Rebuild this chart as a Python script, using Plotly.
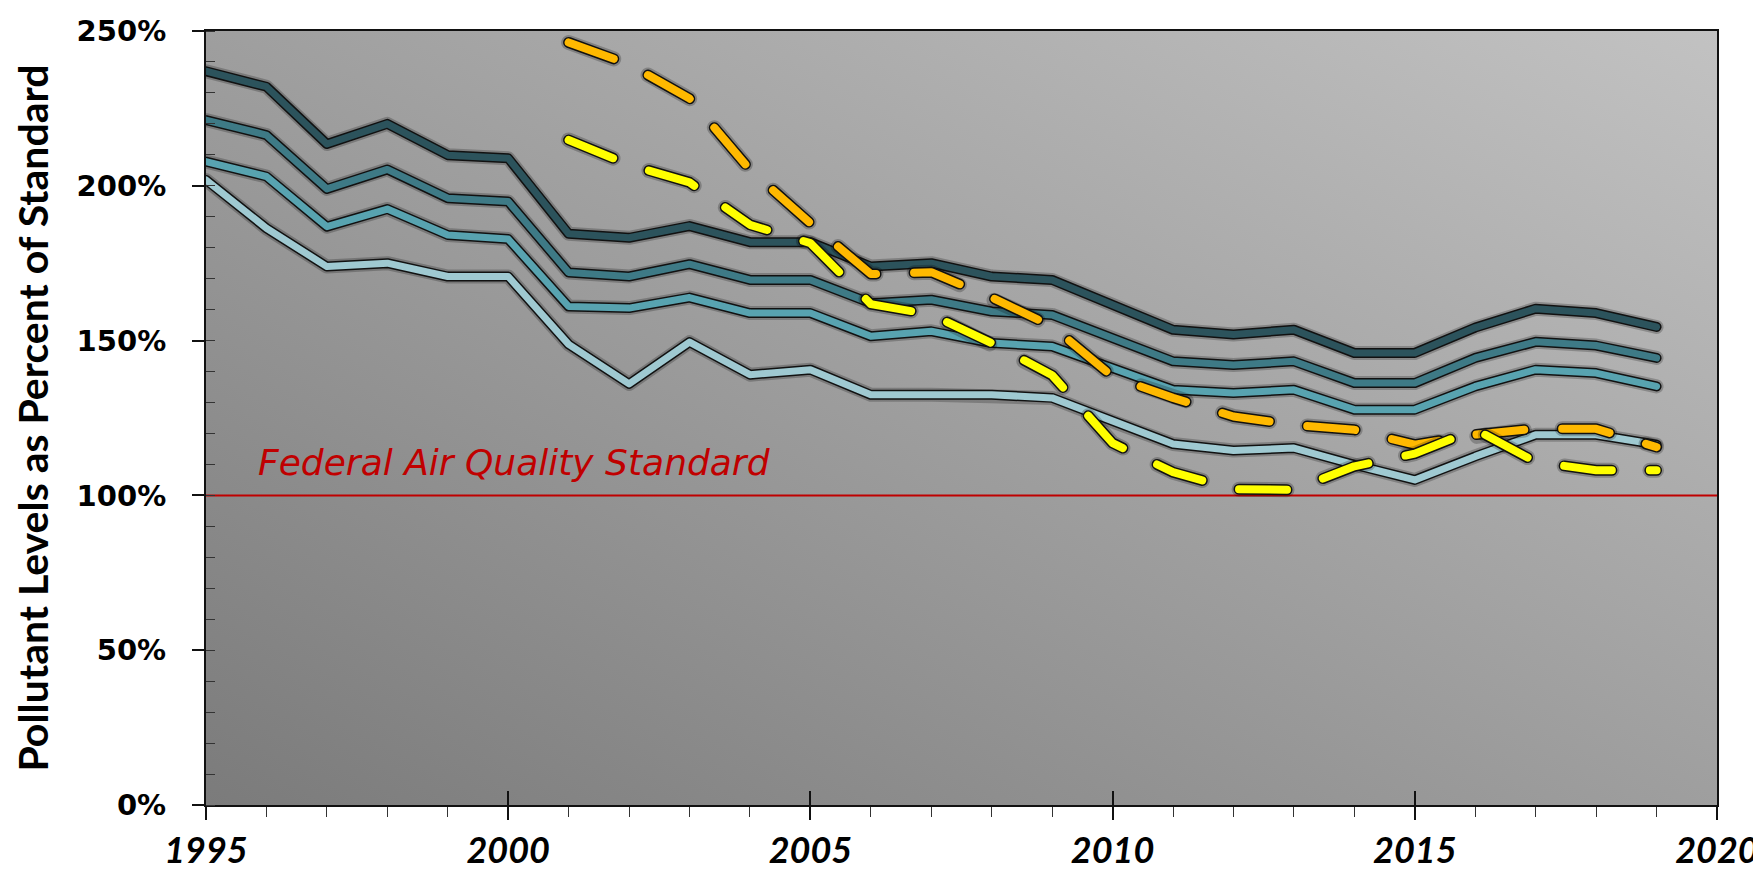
import base64
import plotly.graph_objects as go

# ---------------- data ----------------
years = list(range(1995, 2020))
years_dashed = list(range(2001, 2020))

site_a = [237.0, 232.0, 213.5, 220.0, 209.9, 208.9, 184.5, 183.2, 187.0, 181.8,
          181.8, 173.9, 175.0, 170.7, 169.6, 161.5, 153.5, 152.0, 153.5, 146.0,
          146.0, 154.2, 160.3, 158.9, 154.4]
site_b = [221.2, 216.4, 199.0, 205.3, 196.0, 194.9, 172.0, 170.7, 174.7, 169.6,
          169.6, 162.1, 163.2, 159.4, 158.3, 150.8, 143.3, 142.1, 143.3, 136.3,
          136.3, 144.4, 149.6, 148.4, 144.4]
site_c = [207.8, 203.0, 186.8, 192.5, 184.1, 182.8, 161.0, 160.5, 163.9, 158.9,
          158.9, 151.4, 153.0, 149.2, 148.1, 141.1, 134.1, 133.1, 134.1, 127.7,
          127.7, 135.2, 140.6, 139.5, 135.2]
site_d = [201.9, 186.3, 173.9, 175.0, 170.7, 170.7, 148.8, 136.0, 149.5, 139.0,
          140.6, 132.5, 132.5, 132.5, 131.5, 123.9, 116.6, 114.5, 115.3, 109.9,
          105.0, 112.6, 119.6, 119.6, 116.4]
orange_series = [246.3, 239.2, 228.2, 205.2, 187.9, 171.5, 172.1, 163.9, 154.6, 138.4,
                 131.5, 125.5, 122.8, 121.2, 116.4, 119.6, 121.6, 121.5, 115.6]
yellow_series = [214.8, 206.8, 201.1, 187.4, 181.5, 161.8, 158.4, 149.2, 138.8, 116.9,
                 107.5, 102.0, 101.8, 109.4, 113.5, 121.3, 110.8, 108.1, 108.1]

standard_level = 100
x_tick_vals = [1995, 2000, 2005, 2010, 2015, 2020]
y_tick_vals = [0, 50, 100, 150, 200, 250]
y_tick_text = ["0%", "50%", "100%", "150%", "200%", "250%"]
standard_label = "Federal Air Quality Standard"
y_title = "Pollutant Levels as Percent of Standard"

# ---------------- figure ----------------
fig = go.Figure()


def add_outlined(x, y, color, width, dash=None):
    d = dash if dash else "solid"
    # soft shadow
    fig.add_trace(go.Scatter(x=x, y=y, mode="lines", hoverinfo="skip", showlegend=False,
                             line=dict(color="rgba(0,0,0,0.22)", width=width + 7, dash=d)))
    # black outline
    fig.add_trace(go.Scatter(x=x, y=y, mode="lines", hoverinfo="skip", showlegend=False,
                             line=dict(color="#111111", width=width + 3, dash=d)))
    # coloured core
    fig.add_trace(go.Scatter(x=x, y=y, mode="lines", hoverinfo="skip", showlegend=False,
                             line=dict(color=color, width=width, dash=d)))


add_outlined(years, site_d, "#9fc9d1", 7)
add_outlined(years, site_c, "#58a3b0", 7)
add_outlined(years, site_b, "#3e7a86", 7)
add_outlined(years, site_a, "#2c535c", 7)
add_outlined(years_dashed, orange_series, "#ffb900", 8, dash="48px,38px")
add_outlined(years_dashed, yellow_series, "#ffff00", 8, dash="48px,38px")

# gradient background for plotting area
svg = ('<svg xmlns="http://www.w3.org/2000/svg" width="200" height="100" viewBox="0 0 200 100" '
       'preserveAspectRatio="none"><defs><linearGradient id="g" x1="0" y1="1" x2="1" y2="0">'
       '<stop offset="0" stop-color="#7b7b7b"/><stop offset="1" stop-color="#c2c2c2"/>'
       '</linearGradient></defs><rect width="200" height="100" fill="url(#g)"/></svg>')
bg_src = "data:image/svg+xml;base64," + base64.b64encode(svg.encode()).decode()

fig.add_layout_image(dict(source=bg_src, xref="paper", yref="paper", x=0, y=1,
                          sizex=1, sizey=1, xanchor="left", yanchor="top",
                          sizing="stretch", layer="below"))

fig.add_shape(type="line", xref="paper", x0=0, x1=1, yref="y",
              y0=standard_level, y1=standard_level,
              line=dict(color="#c00000", width=2), layer="below")

fig.add_annotation(text=standard_label, x=1995.82, y=110.5, xref="x", yref="y",
                   xanchor="left", yanchor="middle", showarrow=False,
                   font=dict(family="DejaVu Sans", size=36, color="#c00000", style="italic"))

fig.update_layout(
    width=1761, height=869,
    margin=dict(l=198, r=52, t=23, b=72),
    paper_bgcolor="white",
    plot_bgcolor="#a0a0a0",
    showlegend=False,
    xaxis=dict(range=[1995, 2020], tickvals=x_tick_vals, ticktext=[str(v) for v in x_tick_vals],
               automargin=False,
               showgrid=False, zeroline=False, showline=True, linecolor="#111111", linewidth=2,
               mirror=True, ticks="outside", ticklen=13, tickwidth=1.5, tickcolor="#111111",
               ticklabelstandoff=0,
               minor=dict(dtick=1, ticks="outside", ticklen=10, tickwidth=1, tickcolor="#333333"),
               tickfont=dict(family="Lato", size=36, color="black", weight="bold", style="italic")),
    xaxis2=dict(range=[1995, 2020], overlaying="x", matches="x", tickvals=x_tick_vals,
                automargin=False,
                showticklabels=False, showgrid=False, zeroline=False, showline=False,
                ticks="inside", ticklen=14, tickwidth=1.5, tickcolor="#111111", side="bottom"),
    yaxis=dict(range=[0, 250], tickvals=y_tick_vals, ticktext=y_tick_text,
               automargin=False,
               showgrid=False, zeroline=False, showline=True, linecolor="#111111", linewidth=2,
               mirror=True, ticks="outside", ticklen=12, tickwidth=1.5, tickcolor="#111111",
               ticklabelstandoff=20,
               minor=dict(dtick=10, ticks="inside", ticklen=9, tickwidth=1, tickcolor="#333333"),
               tickfont=dict(family="DejaVu Sans", size=29, color="black", weight="bold"),
               title=dict(text=y_title, standoff=26,
                          font=dict(family="Lato", size=41, color="black", weight="bold"))),
)

# invisible trace to activate overlay axis (for crossing major ticks)
fig.add_trace(go.Scatter(x=[x_tick_vals[0]], y=[y_tick_vals[0]], xaxis="x2", mode="markers",
                         marker=dict(opacity=0), hoverinfo="skip", showlegend=False))

round_caps = ("var gd=document.getElementById('{plot_id}');"
              "function rc(){gd.querySelectorAll('.scatterlayer .js-line').forEach(function(p){"
              "p.style.strokeLinecap='round';p.style.strokeLinejoin='round';});}"
              "rc();gd.on('plotly_afterplot',rc);")

fig.write_html("out.html", post_script=round_caps)
